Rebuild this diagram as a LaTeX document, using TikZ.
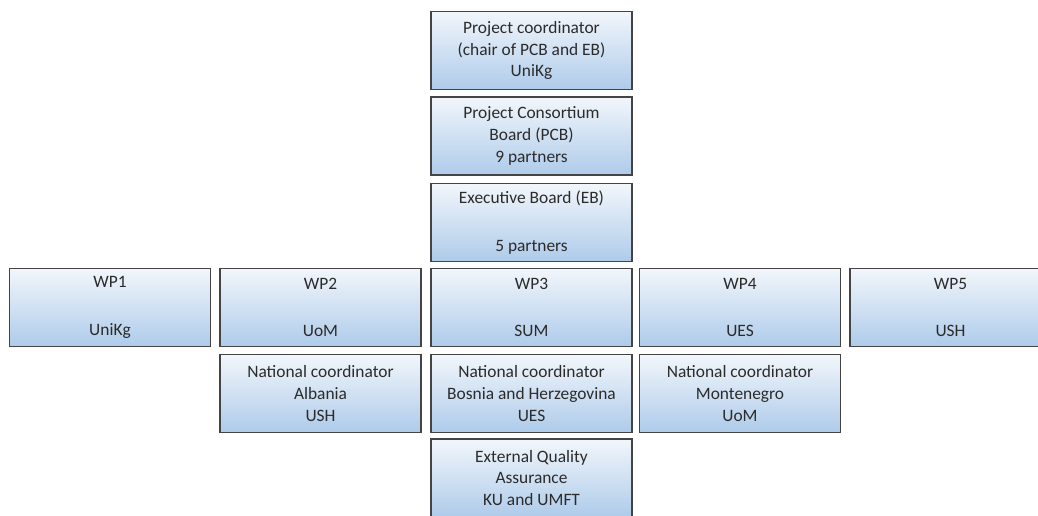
\documentclass[tikz,border=0pt]{standalone}
\usepackage{fontspec}
\setmainfont{Carlito}
\definecolor{boxline}{HTML}{444444}
\definecolor{boxtop}{HTML}{F2F6FB}
\definecolor{boxbot}{HTML}{AECBEA}
\definecolor{boxtext}{HTML}{2B2B2B}
\tikzset{
	unit/.style={draw=boxline, line width=0.9pt, top color=boxtop, bottom color=boxbot,
		minimum width=4.02cm, minimum height=1.56cm, inner sep=0pt, align=center,
		text=boxtext, font=\fontsize{9.9}{12.5}\selectfont},
}
\begin{document}
\begin{tikzpicture}[x=0.02cm, y=-0.02cm]
	\useasboundingbox (0, 0) rectangle (1038, 516);
	\clip (0, 0) rectangle (1038, 516);

	\node[unit] (coord) at (531.5, 50.5) {Project coordinator\\(chair of PCB and EB)\\UniKg};
	\node[unit] (pcb) at (531.5, 136) {Project Consortium\\Board (PCB)\\9 partners};
	\node[unit] (eb) at (531.5, 222.5) {Executive Board (EB)\\[14.5pt]5 partners};

	\node[unit] (wp1) at (110, 307.5) {WP1\\[14.5pt]UniKg};
	\node[unit] (wp2) at (320.5, 307.5) {WP2\\[14.5pt]UoM};
	\node[unit] (wp3) at (531.5, 307.5) {WP3\\[14.5pt]SUM};
	\node[unit] (wp4) at (740, 307.5) {WP4\\[14.5pt]UES};
	\node[unit] (wp5) at (950.5, 307.5) {WP5\\[14.5pt]USH};

	\node[unit] (ncal) at (320.5, 393.5) {National coordinator\\Albania\\USH};
	\node[unit] (ncbh) at (531.5, 393.5) {National coordinator\\Bosnia and Herzegovina\\UES};
	\node[unit] (ncme) at (740, 393.5) {National coordinator\\Montenegro\\UoM};

	\node[unit] (eqa) at (531.5, 478) {External Quality\\Assurance\\KU and UMFT};
\end{tikzpicture}
\end{document}
